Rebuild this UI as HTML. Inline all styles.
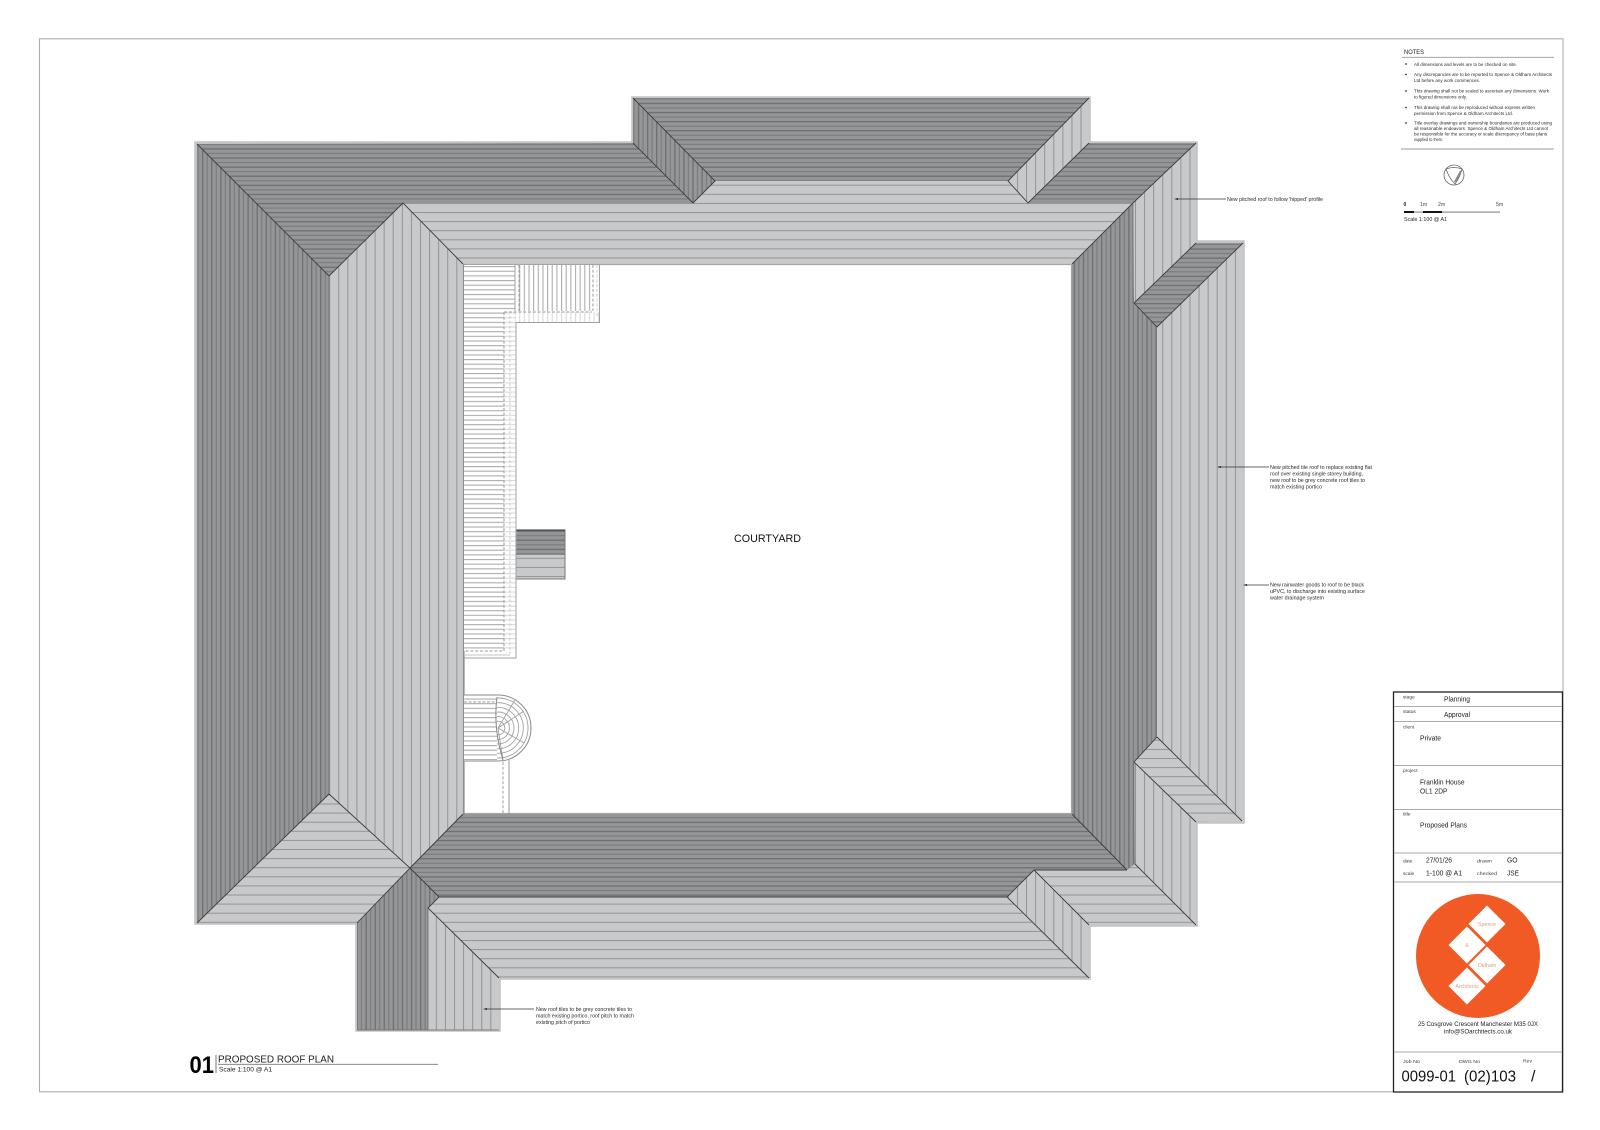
<!DOCTYPE html>
<html><head><meta charset="utf-8"><title>Proposed Roof Plan</title>
<style>
html,body{margin:0;padding:0;background:#fff;width:1600px;height:1130px;overflow:hidden}
svg{display:block;filter:blur(.3px)}
text{font-family:"Liberation Sans",sans-serif;fill:#222}
.n{font-size:4.6px;fill:#2a2a2a}
.l{font-size:5.4px;fill:#2a2a2a}
.s{font-size:4.8px;fill:#3a3a3a}
.v{font-size:7px;fill:#1c1c1c}
.h{stroke:#3c3c3e;stroke-width:.9;fill:none}
</style></head><body>
<svg width="1600" height="1130" viewBox="0 0 1600 1130" xmlns="http://www.w3.org/2000/svg">
<defs>
<pattern id="hl" patternUnits="userSpaceOnUse" x="0" y="2.7" width="10" height="9.1"><rect width="10" height="9.1" fill="#c8c9ca"/><rect y="-.1" width="10" height="1.1" fill="#939496"/></pattern>
<pattern id="vl" patternUnits="userSpaceOnUse" x="2.3" y="0" width="9.08" height="10"><rect width="9.08" height="10" fill="#c8c9ca"/><rect x="-.1" width="1.1" height="10" fill="#939496"/></pattern>
<pattern id="vr" patternUnits="userSpaceOnUse" x="0" y="0" width="9.08" height="10"><rect width="9.08" height="10" fill="#c8c9ca"/><rect x="-.1" width="1.1" height="10" fill="#939496"/></pattern>
<pattern id="hd" patternUnits="userSpaceOnUse" x="0" y="2.7" width="10" height="9.1"><rect width="10" height="9.1" fill="#959698"/><rect width="10" height="1.3" fill="#6e6f71"/><rect y="4.55" width="10" height="1.2" fill="#7b7c7e"/></pattern>
<pattern id="vd" patternUnits="userSpaceOnUse" x="2.3" y="0" width="9.08" height="10"><rect width="9.08" height="10" fill="#959698"/><rect width="1.3" height="10" fill="#6e6f71"/><rect x="4.54" width="1.2" height="10" fill="#7b7c7e"/></pattern>
<pattern id="fh" patternUnits="userSpaceOnUse" x="0" y="1" width="10" height="4.65"><rect width="10" height="4.65" fill="#fff"/><rect width="10" height="1.1" fill="#adadad"/></pattern>
<pattern id="fv" patternUnits="userSpaceOnUse" x="3" y="0" width="4.65" height="10"><rect width="4.65" height="10" fill="#fff"/><rect width="1.1" height="10" fill="#adadad"/></pattern>
<clipPath id="semi"><rect x="497" y="690" width="40" height="76"/></clipPath>
</defs>
<rect width="1600" height="1130" fill="#fff"/>
<rect x="39.5" y="38.8" width="1523.5" height="1053" fill="none" stroke="#aeaeae" stroke-width="1.1"/>

<!-- outer roof outline -->
<polygon points="196,143 633,143 633,98 1089,98 1089,143 1196,143 1196,242 1243,242 1243,822 1196,822 1196,925 1089,925 1089,978 499,978 499,1030 357,1030 357,923 196,923" fill="#c8c8c8" stroke="#c4c4c4" stroke-width="3.6"/>

<!-- dark faces -->
<polygon points="197,144 633,143 693,203 403,203 329,276" fill="url(#hd)"/>
<polygon points="197,144 329,276 329,794 197,923" fill="url(#vd)"/>
<polygon points="633,98 1089,98 1008,181 715,181" fill="url(#hd)"/>
<polygon points="633,98 715,181 693,203 633,143" fill="url(#vd)"/>
<polygon points="1196,143 1133,203 1028,203 1089,143" fill="url(#hd)"/>
<polygon points="1133,203 1134,303 1157,327 1157,737 1134,762 1135,864 1127,870 1072,814 1072,264" fill="url(#vd)"/>
<polygon points="1196,243 1243,243 1157,327 1134,303" fill="url(#hd)"/>
<polygon points="463,814 1072,814 1127,870 1034,870 1007,897 439,897 410,868" fill="url(#hd)"/>
<polygon points="410,868 357,923 357,1030 428,1030 428,908 439,897" fill="url(#vd)"/>

<!-- light faces -->
<polygon points="403,203 693,203 715,181 1008,181 1028,203 1133,203 1072,264 463,264" fill="url(#hl)"/>
<polygon points="1089,98 1089,143 1028,203 1008,181" fill="url(#vr)"/>
<polygon points="329,276 403,203 463,264 463,814 410,868 329,794" fill="url(#vl)"/>
<polygon points="329,794 410,868 357,923 197,923" fill="url(#hl)"/>
<polygon points="1196,143 1196,243 1134,303 1133,203" fill="url(#vr)"/>
<polygon points="1243,243 1243,822 1157,737 1157,327" fill="url(#vr)"/>
<polygon points="1157,737 1242,821 1196,822 1134,762" fill="url(#hl)"/>
<polygon points="1134,762 1196,822 1196,925 1135,864" fill="url(#vr)"/>
<polygon points="1034,870 1127,870 1135,864 1196,925 1089,925" fill="url(#hl)"/>
<polygon points="1007,897 1034,870 1089,925 1089,978" fill="url(#vr)"/>
<polygon points="439,897 1007,897 1089,978 499,978 428,908" fill="url(#hl)"/>
<polygon points="428,908 499,978 499,1030 428,1030" fill="url(#vr)"/>

<!-- hips -->
<path class="h" d="M197,144 329,276 403,203 463,264M329,794L197,923M329,794 410,868 357,923M633,143 693,203 715,181 633,98M1089,143 1028,203 1008,181 1089,98M1196,143 1133,203 1072,264M1134,303 1196,243M1243,243 1157,327 1134,303M1157,737 1242,821M1157,737 1134,762 1196,822M1127,870 1072,814M1135,864 1196,925M1034,870 1007,897 1089,978M1034,870 1089,925M439,897H1007M1034,870H1127M410,868 439,897 428,908 499,978M463,814 410,868"/>
<path d="M329,276V794M357,1030H499M1134,762V864M1133,203V303M428,908V1030" fill="none" stroke="#66676a" stroke-width=".7"/>

<!-- courtyard -->
<rect x="463.5" y="264.5" width="608" height="549" fill="#fff" stroke="#a5a5a5" stroke-width="1.2"/>
<rect x="463.5" y="264" width="1" height="550" fill="#777"/>

<!-- flat roof -->
<rect x="464" y="265" width="40" height="386" fill="url(#fh)"/>
<rect x="519" y="265" width="74" height="46" fill="url(#fv)"/>
<rect x="464" y="265" width="51" height="46" fill="url(#fh)"/>
<rect x="504" y="312" width="12" height="339" fill="url(#fh)" opacity=".45"/>
<rect x="515" y="312" width="85" height="10" fill="url(#fv)" opacity=".45"/>
<path d="M515,265V311M599.5,265V322.5H516V658H464" fill="none" stroke="#a0a0a0" stroke-width="1"/>
<path d="M504,312H592M504,312V651H464M519,265V311M593,265V311" fill="none" stroke="#9a9a9a" stroke-width="1" stroke-dasharray="3 1.8"/>
<path d="M510,316V654M597,265V316" fill="none" stroke="#c0c0c0" stroke-width=".8" stroke-dasharray="3 1.8"/>
<path d="M464,655H510" stroke="#c4c4c4" stroke-width="1"/>
<!-- small block -->
<rect x="516.5" y="530" width="48.5" height="25" fill="url(#hd)"/>
<rect x="516.5" y="555" width="48.5" height="24" fill="url(#hl)"/>
<path d="M516.5,530H565V579H516.5" fill="none" stroke="#777" stroke-width="1"/>
<path d="M516.5,530H565" stroke="#333" stroke-width="1"/>

<!-- portico -->
<path d="M464,695H498A33,33 0 0 1 498,761H464" fill="#fff" stroke="#8a8a8a" stroke-width="1"/>
<rect x="464" y="696" width="33" height="64" fill="url(#fh)"/>
<g fill="none" stroke="#a2a2a2" stroke-width=".9" clip-path="url(#semi)">
<circle cx="498" cy="728" r="30"/><circle cx="498" cy="728" r="25.3"/><circle cx="498" cy="728" r="20.7"/><circle cx="498" cy="728" r="16"/><circle cx="498" cy="728" r="11.4"/><circle cx="498" cy="728" r="6.8"/>
<path d="M498,728 524,711M498,728 524,743M498,728 515,700M498,728 503,760"/>
</g>
<path d="M497,697Q493,728 503,760" fill="none" stroke="#888" stroke-width="1"/>
<path d="M464,702H497" stroke="#999" stroke-width="1" stroke-dasharray="3 1.6"/>
<path d="M503,762V814" stroke="#a0a0a0" stroke-width="1" stroke-dasharray="3 1.8"/>
<path d="M509,760V814" stroke="#999" stroke-width="1"/>

<text x="734" y="542" font-size="10.6" textLength="67" lengthAdjust="spacingAndGlyphs" style="fill:#111">COURTYARD</text>

<!-- leaders -->
<g stroke="#333" stroke-width=".7" fill="none">
<path d="M1176,199H1226M1219,467H1269M1245,585H1269M485,1009H534"/>
</g>
<g fill="#222">
<path d="M1174,199l4,-1v2zM1217,467l4,-1v2zM1243,585l4,-1v2zM483,1009l4,-1v2z"/>
</g>
<g>
<text class="l" x="1227" y="201" textLength="96" lengthAdjust="spacingAndGlyphs">New pitched roof to follow 'hipped' profile</text>
<text class="l" x="1270" y="469" textLength="102" lengthAdjust="spacingAndGlyphs">New pitched tile roof to replace existing flat</text>
<text class="l" x="1270" y="475.5" textLength="93" lengthAdjust="spacingAndGlyphs">roof over existing single storey building,</text>
<text class="l" x="1270" y="482" textLength="95" lengthAdjust="spacingAndGlyphs">new roof to be grey concrete roof tiles to</text>
<text class="l" x="1270" y="488.5" textLength="52" lengthAdjust="spacingAndGlyphs">match existing portico</text>
<text class="l" x="1270" y="586.5" textLength="94" lengthAdjust="spacingAndGlyphs">New rainwater goods to roof to be black</text>
<text class="l" x="1270" y="593" textLength="95" lengthAdjust="spacingAndGlyphs">uPVC, to discharge into existing surface</text>
<text class="l" x="1270" y="599.5" textLength="54" lengthAdjust="spacingAndGlyphs">water drainage system</text>
<text class="l" x="536" y="1011" textLength="96" lengthAdjust="spacingAndGlyphs">New roof tiles to be grey concrete tiles to</text>
<text class="l" x="536" y="1017.5" textLength="98" lengthAdjust="spacingAndGlyphs">match existing portico, roof pitch to match</text>
<text class="l" x="536" y="1024" textLength="54" lengthAdjust="spacingAndGlyphs">existing pitch of portico</text>
</g>

<!-- title -->
<text x="189.5" y="1073" font-size="24.5" font-weight="bold" textLength="24.5" lengthAdjust="spacingAndGlyphs" style="fill:#000">01</text>
<path d="M216,1055V1073" stroke="#555" stroke-width=".8"/>
<text x="218" y="1062.3" font-size="10.4" textLength="116" lengthAdjust="spacingAndGlyphs" style="fill:#222">PROPOSED ROOF PLAN</text>
<path d="M218,1064.3H438" stroke="#777" stroke-width=".8"/>
<text x="219" y="1071.3" font-size="6.4" textLength="53" lengthAdjust="spacingAndGlyphs">Scale 1:100 @ A1</text>

<!-- notes -->
<text x="1404" y="54" font-size="6" textLength="20" lengthAdjust="spacingAndGlyphs">NOTES</text>
<path d="M1402,57.3H1554M1401,149H1554" stroke="#999" stroke-width=".9"/>
<g fill="#333"><circle cx="1406" cy="64" r=".9"/><circle cx="1406" cy="74.5" r=".9"/><circle cx="1406" cy="91" r=".9"/><circle cx="1406" cy="107.5" r=".9"/><circle cx="1406" cy="123" r=".9"/></g>
<text class="n" x="1414" y="66" textLength="103" lengthAdjust="spacingAndGlyphs">All dimensions and levels are to be checked on site.</text>
<text class="n" x="1414" y="76" textLength="138" lengthAdjust="spacingAndGlyphs">Any discrepancies are to be reported to Spence &amp; Oldham Architects</text>
<text class="n" x="1414" y="82" textLength="66" lengthAdjust="spacingAndGlyphs">Ltd before any work commences.</text>
<text class="n" x="1414" y="92.7" textLength="135" lengthAdjust="spacingAndGlyphs">This drawing shall not be scaled to ascertain any dimensions. Work</text>
<text class="n" x="1414" y="98.6" textLength="53" lengthAdjust="spacingAndGlyphs">to figured dimensions only.</text>
<text class="n" x="1414" y="109" textLength="121" lengthAdjust="spacingAndGlyphs">This drawing shall not be reproduced without express written</text>
<text class="n" x="1414" y="114.8" textLength="99" lengthAdjust="spacingAndGlyphs">permission from Spence &amp; Oldham Architects Ltd.</text>
<text class="n" x="1414" y="124.7" textLength="138" lengthAdjust="spacingAndGlyphs">Title overlay drawings and ownership boundaries are produced using</text>
<text class="n" x="1414" y="130.2" textLength="134" lengthAdjust="spacingAndGlyphs">all reasonable endeavors. Spence &amp; Oldham Architects Ltd cannot</text>
<text class="n" x="1414" y="135.6" textLength="133" lengthAdjust="spacingAndGlyphs">be responsible for the accuracy or scale discrepancy of base plans</text>
<text class="n" x="1414" y="141" textLength="29" lengthAdjust="spacingAndGlyphs">supplied to them.</text>

<!-- north -->
<circle cx="1454" cy="175" r="10" fill="none" stroke="#666" stroke-width=".8"/>
<path d="M1446,169Q1454,166 1462,169Q1460,177 1455,184Q1449,178 1446,169Z" fill="none" stroke="#666" stroke-width=".8"/>
<path d="M1461,171L1455,182" stroke="#888" stroke-width="2"/>

<!-- scale bar -->
<text x="1403.5" y="206" font-size="5" font-weight="bold">0</text>
<text x="1420" y="206" font-size="5.2" style="fill:#444">1m</text>
<text x="1438" y="206" font-size="5.2" style="fill:#444">2m</text>
<text x="1496" y="206" font-size="5.2" style="fill:#444">5m</text>
<rect x="1404" y="211.3" width="96" height="1.6" fill="#aaa"/>
<rect x="1404" y="211" width="10" height="2" fill="#111"/>
<rect x="1423" y="211" width="19" height="2" fill="#111"/>
<text x="1404" y="221" font-size="5.9" textLength="43" lengthAdjust="spacingAndGlyphs">Scale 1:100 @ A1</text>

<!-- title block -->
<rect x="1393.5" y="692" width="169" height="400" fill="#fff" stroke="#222" stroke-width="1.3"/>
<path d="M1394,706.5H1562M1394,721.5H1562M1394,765.5H1562M1394,809.5H1562M1394,853H1562M1394,882H1562M1394,1052H1562" stroke="#aaa" stroke-width=".9"/>
<text class="s" x="1403" y="698.5">stage</text>
<text class="s" x="1403" y="713">status</text>
<text class="s" x="1403" y="728.5">client</text>
<text class="s" x="1403" y="772">project</text>
<text class="s" x="1403" y="815.5">title</text>
<text class="s" x="1403" y="862.5">date</text>
<text class="s" x="1403" y="875">scale</text>
<text class="s" x="1477" y="862.5" textLength="15" lengthAdjust="spacingAndGlyphs">drawn</text>
<text class="s" x="1477" y="875" textLength="20" lengthAdjust="spacingAndGlyphs">checked</text>
<text class="v" x="1444" y="701.5" textLength="26" lengthAdjust="spacingAndGlyphs">Planning</text>
<text class="v" x="1444" y="717" textLength="26" lengthAdjust="spacingAndGlyphs">Approval</text>
<text class="v" x="1420" y="740.5" textLength="21" lengthAdjust="spacingAndGlyphs">Private</text>
<text class="v" x="1420" y="784.5" textLength="44.5" lengthAdjust="spacingAndGlyphs">Franklin House</text>
<text class="v" x="1420" y="793.5" textLength="27.5" lengthAdjust="spacingAndGlyphs">OL1 2DP</text>
<text class="v" x="1420" y="827.5" textLength="47" lengthAdjust="spacingAndGlyphs">Proposed Plans</text>
<text class="v" x="1426" y="862.5" textLength="26" lengthAdjust="spacingAndGlyphs">27/01/26</text>
<text class="v" x="1426" y="875.5" textLength="36" lengthAdjust="spacingAndGlyphs">1-100 @ A1</text>
<text class="v" x="1507" y="862.5" textLength="10.5" lengthAdjust="spacingAndGlyphs">GO</text>
<text class="v" x="1507" y="875.5" textLength="12" lengthAdjust="spacingAndGlyphs">JSE</text>

<!-- logo -->
<circle cx="1478" cy="956" r="62" fill="#f15a24"/>
<g fill="#fff">
<polygon points="1487,905.5 1505.5,924 1487,942.5 1468.5,924"/>
<polygon points="1467,926.5 1485.5,945 1467,963.5 1448.5,945"/>
<polygon points="1487,946.5 1505.5,965 1487,983.5 1468.5,965"/>
<polygon points="1467,967.5 1485.5,986 1467,1004.5 1448.5,986"/>
</g>
<g font-size="5.3" text-anchor="middle">
<text x="1487" y="925.8" style="fill:#e59a78">Spence</text>
<text x="1467" y="946.8" style="fill:#e59a78">&amp;</text>
<text x="1487" y="967" style="fill:#e59a78">Oldham</text>
<text x="1467" y="987.8" style="fill:#e59a78">Architects</text>
</g>
<text x="1418" y="1026" font-size="6.4" textLength="120" lengthAdjust="spacingAndGlyphs">25 Cosgrove Crescent Manchester M35 0JX</text>
<text x="1444" y="1033.5" font-size="6.4" textLength="68" lengthAdjust="spacingAndGlyphs">info@SOarchitects.co.uk</text>
<text class="s" x="1403" y="1063" textLength="17" lengthAdjust="spacingAndGlyphs">Job No</text>
<text class="s" x="1459" y="1063" textLength="21" lengthAdjust="spacingAndGlyphs">DWG No</text>
<text class="s" x="1523" y="1062.5" textLength="9" lengthAdjust="spacingAndGlyphs">Rev</text>
<text x="1401.5" y="1081.5" font-size="16" textLength="54.5" lengthAdjust="spacingAndGlyphs" style="fill:#111">0099-01</text>
<text x="1464" y="1081.5" font-size="16" textLength="52" lengthAdjust="spacingAndGlyphs" style="fill:#111">(02)103</text>
<text x="1531" y="1081.5" font-size="16" style="fill:#111">/</text>
</svg>
</body></html>
